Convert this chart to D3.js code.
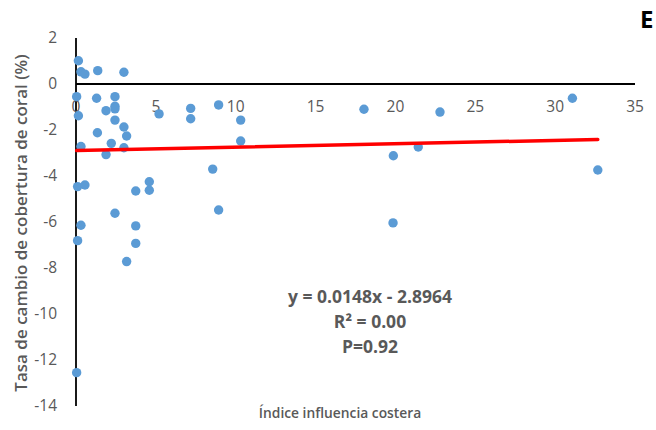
<!DOCTYPE html>
<html>
<head>
<meta charset="utf-8">
<script src="https://cdn.jsdelivr.net/npm/d3@7"></script>
<style>
  body { margin: 0; background: #fff; }
  text { font-family: "Open Sans", "Liberation Sans", sans-serif; }
</style>
</head>
<body>
<div id="chart"></div>
<script>
"use strict";

// índice influencia costera (x) vs tasa de cambio de cobertura (y)
var xValues = [0.15, 0.31, 0.56, 1.36, 3.0, 0.04, 1.29, 2.44, 2.44, 2.44, 1.88, 0.15, 5.2, 7.18, 7.18,
    8.93, 10.31, 2.44, 3.0, 3.17, 1.34, 2.21, 3.0, 0.31, 1.88, 10.31, 8.56, 0.1, 0.56, 3.74,
    4.59, 4.59, 2.44, 8.93, 0.31, 3.74, 0.1, 3.74, 3.17, 0.04, 18.03, 22.79, 31.08, 19.87, 21.43,
    32.67, 19.85];
var yValues = [1.01, 0.53, 0.43, 0.58, 0.51, -0.55, -0.62, -0.55, -0.97, -1.08, -1.16, -1.38, -1.30, -1.06, -1.51,
    -0.91, -1.57, -1.57, -1.87, -2.26, -2.12, -2.58, -2.77, -2.72, -3.07, -2.48, -3.70, -4.46, -4.39, -4.65,
    -4.25, -4.62, -5.62, -5.48, -6.14, -6.17, -6.81, -6.93, -7.72, -12.55, -1.10, -1.22, -0.62, -3.12, -2.74,
    -3.74, -6.04];
var xTicks = [0, 5, 10, 15, 20, 25, 30, 35];
var yTicks = [2, 0, -2, -4, -6, -8, -10, -12, -14];
var slope = 0.0148, intercept = -2.8964;
var statLines = ["y = 0.0148x - 2.8964", "R\u00b2 = 0.00", "P=0.92"];

var width = 656, height = 430;
var svg = d3.select("#chart").append("svg")
    .attr("width", width)
    .attr("height", height);

var x = d3.scaleLinear().domain([0, 35]).range([76, 635]);
var y = d3.scaleLinear().domain([-14, 2]).range([406, 38]);

var grey = "#595959";

// y axis line and labels
svg.append("line")
    .attr("x1", x(0)).attr("x2", x(0))
    .attr("y1", y(2)).attr("y2", y(-14))
    .attr("stroke", "#000").attr("stroke-width", 1.8);

svg.append("g").selectAll("text")
    .data(yTicks)
    .enter().append("text")
    .attr("x", 57)
    .attr("y", function (d) { return y(d); })
    .attr("dy", "0.35em")
    .attr("text-anchor", "end")
    .attr("font-size", 15.5)
    .attr("fill", grey)
    .text(function (d) { return d; });

// x axis sits at y = 0
svg.append("line")
    .attr("x1", x(0)).attr("x2", x(35))
    .attr("y1", y(0)).attr("y2", y(0))
    .attr("stroke", "#000").attr("stroke-width", 1.8);

svg.append("g").selectAll("text")
    .data(xTicks)
    .enter().append("text")
    .attr("x", function (d) { return x(d); })
    .attr("y", y(0) + 23)
    .attr("dy", "0.35em")
    .attr("text-anchor", "middle")
    .attr("font-size", 15.5)
    .attr("fill", grey)
    .text(function (d) { return d; });

// points
var pts = xValues.map(function (v, i) { return { x: v, y: yValues[i] }; });
svg.append("g").selectAll("circle")
    .data(pts)
    .enter().append("circle")
    .attr("cx", function (d) { return x(d.x); })
    .attr("cy", function (d) { return y(d.y); })
    .attr("r", 4.7)
    .attr("fill", "#5b9bd5");

// trend line over the data range
var xExt = d3.extent(xValues);
svg.append("line")
    .attr("x1", x(xExt[0])).attr("x2", x(xExt[1]))
    .attr("y1", y(slope * xExt[0] + intercept))
    .attr("y2", y(slope * xExt[1] + intercept))
    .attr("stroke", "#ff0000")
    .attr("stroke-width", 3.5)
    .attr("stroke-linecap", "round");

// equation text
svg.append("g").selectAll("text")
    .data(statLines)
    .enter().append("text")
    .attr("x", 370)
    .attr("y", function (d, i) { return 303 + i * 25; })
    .attr("text-anchor", "middle")
    .attr("font-size", 17.5)
    .attr("font-weight", "bold")
    .attr("fill", grey)
    .text(function (d) { return d; });

// axis titles
svg.append("text")
    .attr("x", 340)
    .attr("y", 418)
    .attr("text-anchor", "middle")
    .attr("font-size", 13.8)
    .attr("font-weight", 600)
    .attr("fill", grey)
    .text("Índice influencia costera");

svg.append("text")
    .attr("transform", "translate(27,223) rotate(-90)")
    .attr("text-anchor", "middle")
    .attr("font-size", 17)
    .attr("font-weight", 600)
    .attr("fill", grey)
    .text("Tasa de cambio de cobertura de coral (%)");

// panel letter
svg.append("text")
    .attr("x", 640)
    .attr("y", 28)
    .attr("font-size", 24)
    .attr("font-weight", "bold")
    .attr("fill", "#000")
    .text("E");
</script>
</body>
</html>
